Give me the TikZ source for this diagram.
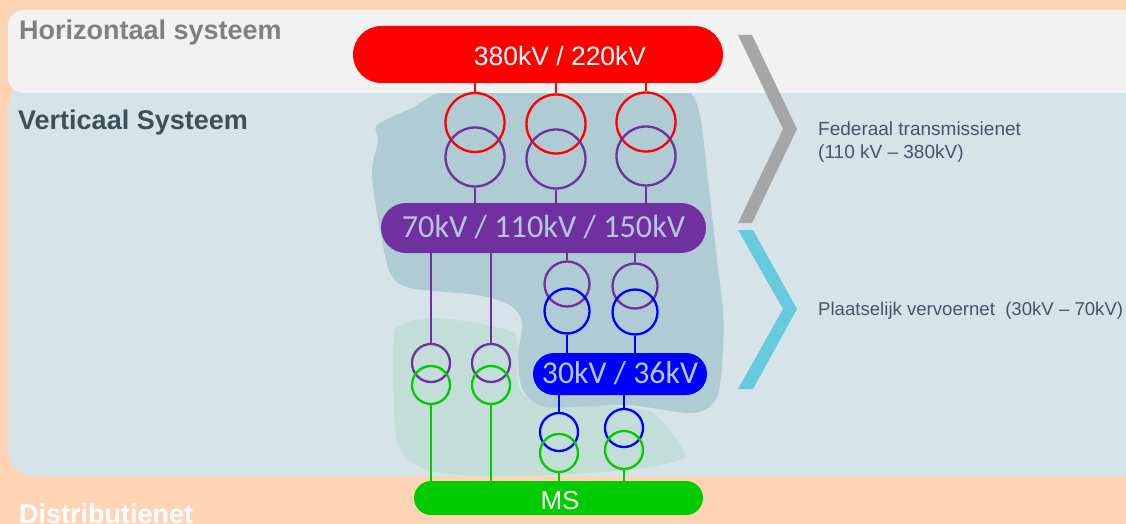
\documentclass[tikz,border=0pt]{standalone}
\usepackage{xcolor}
\usepackage{fontspec}
\usepackage{tikz}
\setmainfont{Liberation Sans}
\newfontfamily\calibrifont{Carlito}
\usetikzlibrary{
  calc,
  shapes.misc
}
\definecolor{gridPeach}{HTML}{FFD4B4}
\definecolor{gridPanel}{HTML}{F2F2F2}
\definecolor{gridVert}{HTML}{D6E4EA}
\definecolor{gridBlob}{HTML}{AFCBD4}
\definecolor{gridMoss}{HTML}{C3DDD8}
\definecolor{gridRed}{HTML}{FF0000}
\definecolor{gridPurple}{HTML}{7030A0}
\definecolor{gridBlue}{HTML}{0000FF}
\definecolor{gridGreen}{HTML}{00CC00}
\definecolor{gridGrey}{HTML}{A6A6A6}
\definecolor{gridCyan}{HTML}{66CCDD}
\definecolor{gridInk}{HTML}{44546A}
\definecolor{gridSlate}{HTML}{3D4F58}
\definecolor{gridPale}{HTML}{B4C7E0}
\tikzset{
  coilbig/.style={circle, draw, line width=2.3pt, minimum size=59pt, inner sep=0pt},
  coilmid/.style={circle, draw, line width=2.3pt, minimum size=45pt, inner sep=0pt},
  coilsmall/.style={circle, draw, line width=2.3pt, minimum size=38pt, inner sep=0pt},
  bus/.style={rounded rectangle, inner sep=0pt},
  feed/.style={line width=2.3pt},
  heading/.style={anchor=base west, inner sep=0pt, font=\fontsize{27}{27}\selectfont\bfseries},
  busname/.style={inner sep=0pt, anchor=base},
  note/.style={anchor=base west, inner sep=0pt, text=gridInk, font=\fontsize{19}{23}\selectfont, align=left}
}
\begin{document}
\begin{tikzpicture}[x=1pt, y=-1pt]
  \useasboundingbox (0,0) rectangle (1126,524);
  \clip (0,0) rectangle (1126,524);
  \fill[gridPeach] (0,0) rectangle (1126,524);
  % panels
  \fill[gridVert] (1126,80) -- (30,80) to[out=180, in=90] (8,115) -- (8,450) to[out=-90, in=180] (34,476) -- (1126,476) -- cycle;
  % zones
  \fill[gridMoss] plot[smooth cycle, tension=0.55] coordinates {(393,343) (403,324) (440,318) (507,330) (517,343) (518,383) (533,400) (593,405) (647,410) (667,427) (683,450) (680,460) (627,470) (527,476) (460,475) (420,467) (397,440)};
  \fill[gridBlob] plot[smooth cycle, tension=0.5] coordinates {(450,90) (560,86) (670,88) (697,104) (708,180) (717,260) (723,310) (723,350) (717,397) (693,413) (627,405) (547,407) (523,390) (518,357) (522,323) (510,305) (477,295) (410,288) (390,273) (381,235) (375,200) (372,170) (378,140) (377,125) (412,108)};
  \fill[gridPanel] (1126,10) -- (24,10) to[out=180, in=90] (8,26) -- (8,77) to[out=-90, in=180] (24,93) -- (1126,93) -- cycle;
  % chevrons
  \fill[gridGrey] (738,35) -- (752,35) -- (797,129) -- (752,223) -- (738,223) -- (783,129) -- cycle;
  \fill[gridCyan] (738,230) -- (753,230) -- (797,309) -- (753,389) -- (738,389) -- (783,309) -- cycle;
  % busbars
  \node[bus, fill=gridRed, minimum width=370pt, minimum height=57pt] (hv) at (538,54.5) {};
  \node[bus, fill=gridPurple, minimum width=325pt, minimum height=50pt] (mv) at (543.5,228) {};
  \node[bus, fill=gridBlue, minimum width=174pt, minimum height=42pt] (lv) at (620,374) {};
  \node[bus, fill=gridGreen, minimum width=289pt, minimum height=34pt] (ms) at (558.5,498) {};
  \node[busname, text=white, font=\fontsize{26.5}{27}\selectfont] (hvname) at (560,66) {380kV / 220kV};
  \node[busname, text=gridPale, font=\calibrifont\fontsize{32.2}{33}\selectfont] (mvname) at (543.5,237) {70kV / 110kV / 150kV};
  \node[busname, text=gridPale, font=\calibrifont\fontsize{31.8}{33}\selectfont] (lvname) at (620,383) {30kV / 36kV};
  \node[busname, text=white, font=\fontsize{26}{26}\selectfont] (msname) at (560,509) {MS};
  % transformers
  \foreach \name/\px/\py/\qy in {a/475/122.5/157, b/556/124/159, c/646/122/156} {
    \node[coilbig, draw=gridRed] (hv\name) at (\px,\py) {};
    \node[coilbig, draw=gridPurple] (mv\name) at (\px,\qy) {};
    \draw[feed, gridRed] (hv.south -| hv\name.north) -- (hv\name.north);
    \draw[feed, gridPurple] (mv\name.south) -- (mv.north -| mv\name.south);
  }
  \foreach \name/\px/\py/\qy in {d/567/284/311, e/635/286/312} {
    \node[coilmid, draw=gridPurple] (mv\name) at (\px,\py) {};
    \node[coilmid, draw=gridBlue] (lv\name) at (\px,\qy) {};
    \draw[feed, gridPurple] (mv.south -| mv\name.north) -- (mv\name.north);
    \draw[feed, gridBlue] (lv\name.south) -- (lv.north -| lv\name.south);
  }
  \foreach \name/\px in {f/431, g/491} {
    \node[coilsmall, draw=gridPurple] (mv\name) at (\px,363) {};
    \node[coilsmall, draw=gridGreen] (ms\name) at (\px,385) {};
    \draw[feed, gridPurple] (mv.south -| mv\name.north) -- (mv\name.north);
    \draw[feed, gridGreen] (ms\name.south) -- (ms.north -| ms\name.south);
  }
  \foreach \name/\px/\py/\qy in {h/559/432/453, i/624/428/450} {
    \node[coilsmall, draw=gridBlue] (lv\name) at (\px,\py) {};
    \node[coilsmall, draw=gridGreen] (ms\name) at (\px,\qy) {};
    \draw[feed, gridBlue] (lv.south -| lv\name.north) -- (lv\name.north);
    \draw[feed, gridGreen] (ms\name.south) -- (ms.north -| ms\name.south);
  }
  % texts
  \node[heading, text=black!50] (horiz) at (19,40) {Horizontaal systeem};
  \node[heading, text=gridSlate] (vert) at (18,129) {Verticaal Systeem};
  \node[heading, text=white] (dist) at (19,523) {Distributienet};
  \node[note] (fed) at (818,158) {Federaal transmissienet\\(110 kV -- 380kV)};
  \node[note, font=\fontsize{18.6}{23}\selectfont] (plaats) at (818,315) {Plaatselijk vervoernet\ \ (30kV -- 70kV)};
\end{tikzpicture}
\end{document}
